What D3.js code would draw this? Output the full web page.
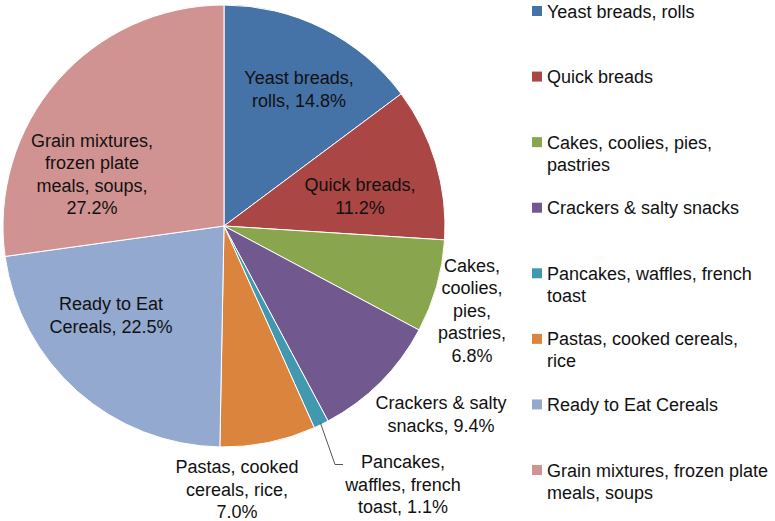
<!DOCTYPE html>
<html>
<head>
<meta charset="utf-8">
<script src="https://cdn.jsdelivr.net/npm/d3@7"></script>
<style>
  html, body { margin: 0; padding: 0; background: #fff; }
  svg text { font-family: "Liberation Sans", Arial, Helvetica, sans-serif; fill: #111; }
</style>
</head>
<body>
<svg id="chart" width="775" height="521"></svg>
<script>
// ---- data ----
const categories = [
  "Yeast breads, rolls",
  "Quick breads",
  "Cakes, coolies, pies, pastries",
  "Crackers & salty snacks",
  "Pancakes, waffles, french toast",
  "Pastas, cooked cereals, rice",
  "Ready to Eat Cereals",
  "Grain mixtures, frozen plate meals, soups"
];
const values = [14.8, 11.2, 6.8, 9.4, 1.1, 7.0, 22.5, 27.2];
const sliceLabels = [
  ["Yeast breads,", "rolls, 14.8%"],
  ["Quick breads,", "11.2%"],
  ["Cakes,", "coolies,", "pies,", "pastries,", "6.8%"],
  ["Crackers & salty", "snacks, 9.4%"],
  ["Pancakes,", "waffles, french", "toast, 1.1%"],
  ["Pastas, cooked", "cereals, rice,", "7.0%"],
  ["Ready to Eat", "Cereals, 22.5%"],
  ["Grain mixtures,", "frozen plate", "meals, soups,", "27.2%"]
];
const legendLabels = [
  ["Yeast breads, rolls"],
  ["Quick breads"],
  ["Cakes, coolies, pies,", "pastries"],
  ["Crackers & salty snacks"],
  ["Pancakes, waffles, french", "toast"],
  ["Pastas, cooked cereals,", "rice"],
  ["Ready to Eat Cereals"],
  ["Grain mixtures, frozen plate", "meals, soups"]
];

// ---- style / layout ----
const colors = ["#4572A7", "#AA4643", "#89A54E", "#71588F", "#4198AF", "#DB843D", "#93A9CF", "#D19392"];
const cx = 224, cy = 226, R = 221;
// label block centres (layout, relative to pie centre)
const labelLayout = [
  [75, -137], [136, -30], [248, 84], [217, 188],
  [179, 258], [13, 263], [-113, 89], [-132, -52]
];
const lineH = 22.5;

const svg = d3.select("#chart");
const g = svg.append("g").attr("transform", `translate(${cx},${cy})`);

const pie = d3.pie().sort(null).value(d => d);
const arcs = pie(values);
const arc = d3.arc().innerRadius(0).outerRadius(R);

g.selectAll("path.slice")
  .data(arcs)
  .join("path")
  .attr("class", "slice")
  .attr("d", arc)
  .attr("fill", (d, i) => colors[i])
  .attr("stroke", "#fff")
  .attr("stroke-width", 1);

// leader line for the tiny slice
const edgeArc = d3.arc().innerRadius(R - 2).outerRadius(R - 2);
{
  const i = 4;
  const p0 = edgeArc.centroid(arcs[i]);
  const lp = labelLayout[i];
  const firstY = lp[1] - (sliceLabels[i].length - 1) * lineH / 2;
  const p1 = [lp[0] - 68, firstY + 3];
  const p2 = [lp[0] - 60, firstY + 3];
  g.append("path")
    .attr("d", d3.line()([p0, p1, p2]))
    .attr("fill", "none")
    .attr("stroke", "#555")
    .attr("stroke-width", 1);
}

// slice labels
arcs.forEach((a, i) => {
  const lines = sliceLabels[i];
  const [lx, ly] = labelLayout[i];
  const t = g.append("text")
    .attr("text-anchor", "middle")
    .attr("font-size", 18);
  lines.forEach((ln, k) => {
    t.append("tspan")
      .attr("x", lx)
      .attr("y", ly - (lines.length - 1) * lineH / 2 + k * lineH + 6.5)
      .text(ln);
  });
});

// legend
const legend = svg.append("g").attr("transform", "translate(532,0)");
const legY = d3.scalePoint().domain(d3.range(categories.length)).range([11, 470]);
categories.forEach((c, i) => {
  const y = legY(i);
  legend.append("rect")
    .attr("x", 0).attr("y", y - 5)
    .attr("width", 10).attr("height", 10)
    .attr("fill", colors[i]);
  const t = legend.append("text").attr("font-size", 18);
  legendLabels[i].forEach((ln, k) => {
    t.append("tspan")
      .attr("x", 15)
      .attr("y", y + 6.5 + k * 22)
      .text(ln);
  });
});
</script>
</body>
</html>
